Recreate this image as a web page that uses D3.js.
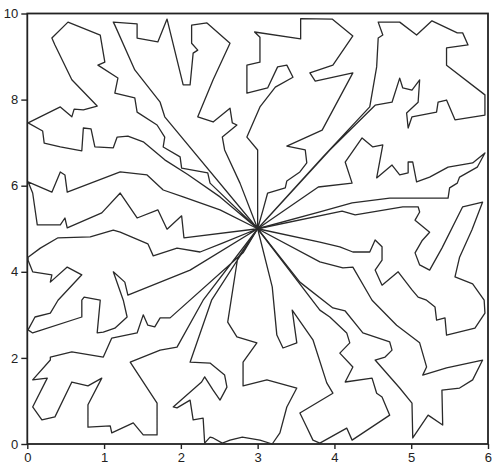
<!DOCTYPE html>
<html>
<head>
<meta charset="utf-8">
<script src="https://cdn.jsdelivr.net/npm/d3@7"></script>
<style>
  body { margin: 0; background: #fff; }
  svg { display: block; }
  .tick text { font-family: "Liberation Sans Narrow", "Liberation Sans", Arial, sans-serif; font-size: 13px; fill: #222; }
</style>
</head>
<body>
<svg id="chart"></svg>
<script>
// axis ticks
var xTicks = [0, 1, 2, 3, 4, 5, 6];
var yTicks = [0, 2, 4, 6, 8, 10];

// every lobe starts and ends in the common centre
var centre = [3, 5];

var lobeNorth = [[3.0,6.83],[2.86,7.13],[3.03,7.83],[3.23,8.29],[3.46,8.52],[3.38,8.80],[3.26,8.76],[3.13,8.27],
  [2.86,8.15],[2.86,8.80],[3.03,8.87],[3.03,9.45],[2.96,9.57],[3.56,9.41],[3.56,9.88],[3.97,9.87],[4.24,9.48],
  [3.98,8.80],[3.68,8.62],[3.75,8.43],[4.24,8.62],[3.84,7.29],[3.38,6.92],[3.62,6.83],[3.64,6.53],[3.55,6.32],
  [3.38,6.11],[3.36,5.95],[3.13,5.83],[3.07,5.44]];

var lobeNorthEast = [[3.85,6.67],[4.46,7.83],[4.55,8.76],[4.57,9.43],[4.63,9.50],[4.57,9.80],[4.85,9.80],[5.07,9.50],
  [5.27,9.83],[5.60,9.55],[5.67,9.55],[5.74,9.27],[5.46,9.20],[5.46,8.80],[5.96,8.11],[5.96,7.64],[5.57,7.53],
  [5.46,7.99],[5.35,7.94],[5.33,7.71],[5.01,7.60],[4.96,7.34],[4.94,7.69],[5.09,7.94],[5.11,8.46],[5.01,8.22],
  [4.89,8.27],[4.85,8.50],[4.75,7.94],[4.53,7.87],[3.94,6.83]];

var lobeEastUpper = [[3.79,5.97],[4.23,6.06],[4.14,6.55],[4.36,7.11],[4.50,6.90],[4.63,6.95],[4.55,6.18],[4.75,6.48],
  [4.85,6.25],[4.96,6.30],[4.96,6.55],[5.02,6.55],[5.07,6.09],[5.24,6.20],[5.48,6.43],[5.80,6.53],[5.96,6.76],
  [5.86,6.43],[5.63,6.20],[5.60,6.06],[5.50,5.95],[5.48,5.71],[4.72,5.71],[4.23,5.60],[3.81,5.39]];

var lobeEast = [[4.10,5.41],[4.27,5.32],[4.89,5.51],[5.09,5.51],[5.11,5.39],[5.05,5.20],[5.24,4.92],[5.14,4.72],
  [5.05,4.44],[5.11,4.16],[5.24,4.04],[5.40,4.55],[5.67,5.51],[5.93,5.62],[5.79,4.97],[5.63,4.34],[5.57,3.88],
  [5.80,3.72],[5.95,3.34],[5.96,3.04],[5.83,2.69],[5.46,2.53],[5.44,2.93],[5.33,2.88],[5.31,3.18],[5.20,3.34],
  [5.09,3.41],[5.01,3.58],[4.83,4.00],[4.62,3.69],[4.53,4.04],[4.62,4.27],[4.62,4.58],[4.53,4.74],[4.46,4.46],
  [4.24,4.46],[4.07,4.58],[3.81,4.69]];

var lobeSouthEast = [[3.81,4.23],[4.11,4.09],[4.24,4.11],[4.49,3.34],[4.81,2.76],[5.11,2.35],[5.20,1.79],[5.15,1.60],
  [5.46,1.77],[5.93,1.95],[5.80,1.49],[5.63,1.30],[5.40,1.25],[5.41,0.44],[5.22,0.67],[5.02,0.14],[5.01,0.95],
  [4.85,1.30],[4.53,1.95],[4.66,2.02],[4.75,2.18],[4.72,2.37],[4.37,2.58],[4.14,3.09],[3.98,3.16],[3.55,3.76]];

var lobeSouthSouthEast = [[3.81,3.11],[3.94,2.95],[4.16,2.58],[4.20,2.35],[4.07,2.11],[4.24,1.79],[4.14,1.44],
  [4.49,1.53],[4.55,1.18],[4.62,1.09],[4.72,0.67],[4.23,0.09],[4.16,0.37],[3.81,0.02],[3.72,0.09],[3.64,0.39],
  [3.55,0.72],[3.98,1.18],[3.90,1.42],[3.72,2.42],[3.45,3.11],[3.51,2.35],[3.33,2.23],[3.25,2.53],[3.19,3.65]];

var lobeSouth = [[2.74,4.32],[2.61,2.83],[2.73,2.49],[2.99,2.35],[2.81,1.90],[2.81,1.35],[3.12,1.49],[3.51,1.30],
  [3.38,0.86],[3.29,0.26],[3.19,0.0],[3.03,0.09],[2.80,0.16],[2.64,0.09],[2.54,0.02],[2.42,0.14],[2.38,0.16],
  [2.31,0.02],[2.29,0.60],[2.16,0.56],[2.12,1.02],[1.95,0.84],[1.90,0.86],[2.27,1.44],[2.31,1.56],[2.42,1.25],
  [2.51,1.02],[2.60,1.32],[2.57,1.60],[2.38,1.88],[2.12,1.90],[2.40,3.34]];

var lobeSouthWest = [[2.81,4.44],[1.86,2.93],[1.73,2.93],[1.66,2.72],[1.57,2.76],[1.51,3.00],[1.43,2.58],[1.10,2.46],
  [0.99,2.02],[0.58,2.14],[0.30,2.02],[0.30,1.95],[0.07,1.49],[0.26,1.53],[0.07,0.86],[0.19,0.56],[0.36,0.63],
  [0.58,1.44],[0.79,1.35],[0.97,1.53],[0.79,0.91],[0.79,0.39],[1.08,0.42],[1.10,0.26],[1.38,0.49],[1.51,0.21],
  [1.69,0.21],[1.69,0.95],[1.34,1.90],[1.73,2.18],[1.95,2.25],[2.29,3.34]];

var lobeWest = [[2.55,4.67],[2.25,4.46],[1.95,4.55],[1.64,4.37],[1.57,4.65],[1.21,4.92],[1.12,4.97],[0.82,4.81],
  [0.40,4.79],[0.17,4.55],[0.01,4.34],[0.01,4.27],[0.07,4.00],[0.32,3.93],[0.30,3.76],[0.52,4.11],[0.71,3.93],
  [0.40,3.34],[0.30,3.04],[0.10,2.95],[0.01,2.65],[0.07,2.58],[0.71,2.95],[0.71,3.34],[0.74,3.41],[0.95,3.34],
  [0.91,2.58],[0.99,2.60],[1.14,2.69],[1.30,2.95],[1.25,3.34],[1.12,4.00],[1.27,3.76],[1.31,3.46],[2.12,4.04]];

var lobeWestUpper = [[2.51,5.44],[2.03,5.74],[1.77,5.90],[1.56,6.25],[1.21,6.32],[0.52,5.85],[0.49,6.25],[0.43,6.32],
  [0.32,5.85],[0.01,6.09],[0.07,5.83],[0.13,5.09],[0.43,5.09],[0.49,5.25],[0.52,5.02],[0.97,5.37],[1.21,5.83],
  [1.43,5.25],[1.70,5.44],[1.82,4.99],[2.01,5.30],[2.04,4.79]];

var lobeNorthWest = [[2.51,5.74],[2.09,6.26],[1.79,6.60],[1.51,7.02],[1.31,7.15],[1.17,7.13],[1.12,6.88],[0.88,6.90],
  [0.83,7.32],[0.73,7.34],[0.71,6.81],[0.43,6.90],[0.22,6.99],[0.20,7.27],[0.01,7.46],[0.43,7.83],[0.58,7.60],
  [0.61,7.78],[0.73,7.76],[0.91,7.85],[0.58,8.46],[0.36,9.27],[0.32,9.43],[0.53,9.80],[0.95,9.50],[1.01,8.87],
  [0.92,8.80],[1.18,8.50],[1.14,8.15],[1.40,8.04],[1.43,7.71],[1.69,7.41],[1.79,7.13],[1.77,6.90],[1.99,6.67],
  [2.01,6.41],[2.35,6.30],[2.38,6.06]];

var lobeNorthNorthWest = [[1.79,7.60],[1.73,7.94],[1.40,8.69],[1.14,9.73],[1.12,9.80],[1.43,9.76],[1.43,9.43],
  [1.70,9.34],[1.82,9.87],[2.03,8.34],[2.12,8.34],[2.16,9.08],[2.22,9.15],[2.14,9.31],[2.14,9.73],[2.34,9.78],
  [2.64,9.31],[2.42,8.46],[2.22,7.60],[2.42,7.48],[2.64,7.80],[2.67,7.46],[2.73,7.41],[2.54,7.13],[2.57,6.83],
  [2.77,6.06]];

var lobes = [lobeNorth, lobeNorthEast, lobeEastUpper, lobeEast, lobeSouthEast, lobeSouthSouthEast,
  lobeSouth, lobeSouthWest, lobeWest, lobeWestUpper, lobeNorthWest, lobeNorthNorthWest];

var margin = {top: 13.5, right: 4, bottom: 25, left: 27.3},
    width = 492 - margin.left - margin.right,
    height = 469 - margin.top - margin.bottom;

var svg = d3.select("#chart")
    .attr("width", width + margin.left + margin.right)
    .attr("height", height + margin.top + margin.bottom)
  .append("g")
    .attr("transform", "translate(" + margin.left + "," + margin.top + ")");

var x = d3.scaleLinear().domain([0, 6]).range([0, width]);
var y = d3.scaleLinear().domain([0, 10]).range([height, 0]);

var xAxis = svg.append("g")
    .attr("transform", "translate(0," + height + ")")
    .call(d3.axisBottom(x).tickValues(xTicks).tickFormat(d3.format("d"))
      .tickSize(5).tickSizeOuter(0).tickPadding(4));
var yAxis = svg.append("g")
    .call(d3.axisLeft(y).tickValues(yTicks).tickFormat(d3.format("d"))
      .tickSize(6).tickSizeOuter(0).tickPadding(3));

// last x label sits on the window edge, keep it inside
xAxis.selectAll(".tick text").filter(function(d) { return d === 6; })
    .attr("text-anchor", "end")
    .attr("dx", "3.5");

svg.selectAll(".domain").remove();
svg.selectAll(".tick line").attr("stroke", "#222").attr("stroke-width", 1.4);

// frame
svg.append("rect")
    .attr("x", 0).attr("y", 0)
    .attr("width", width).attr("height", height)
    .attr("fill", "none")
    .attr("stroke", "#222")
    .attr("stroke-width", 1.8);

var line = d3.line()
    .x(function(d) { return x(d[0]); })
    .y(function(d) { return y(d[1]); });

svg.selectAll("path.lobe")
    .data(lobes)
  .enter()
  .append("path")
    .attr("class", "lobe")
    .attr("d", function(d) { return line([centre].concat(d).concat([centre])); })
    .attr("fill", "none")
    .attr("stroke", "#2a2a2a")
    .attr("stroke-width", 1.3)
    .attr("stroke-linejoin", "round");
</script>
</body>
</html>
